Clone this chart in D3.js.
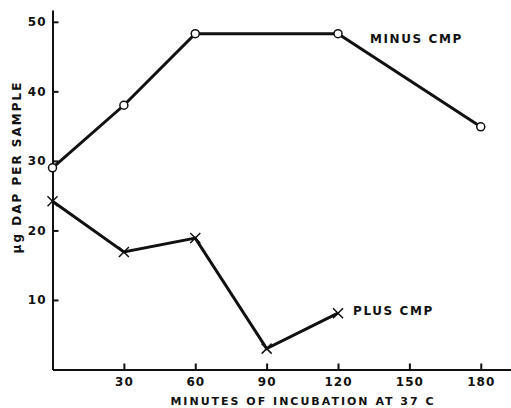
<!DOCTYPE html>
<html>
<head>
<meta charset="utf-8">
<script src="https://cdn.jsdelivr.net/npm/d3@7"></script>
<style>
    body { margin: 0; background: #fff; }
    text { font-family: "DejaVu Sans", sans-serif; font-weight: bold; fill: #111; }
</style>
</head>
<body>
<div id="graph"></div>
<script>
var minusCmp = [[0, 29], [30, 38], [60, 48.3], [120, 48.3], [180, 34.9]];
var plusCmp = [[0, 24.2], [30, 16.9], [60, 18.9], [90, 3], [120, 8.1]];
var xTicks = [30, 60, 90, 120, 150, 180];
var yTicks = [10, 20, 30, 40, 50];

function drawChart() {
    var width = 511, height = 408;
    var svg = d3.select("#graph").append("svg")
        .attr("width", width).attr("height", height);

    var x = d3.scaleLinear().domain([0, 192.5]).range([52.5, 510.5]);
    var y = d3.scaleLinear().domain([0, 51.7]).range([369.5, 10]);

    svg.append("g").attr("transform", "translate(0," + y(0) + ")")
        .call(d3.axisBottom(x).tickValues(xTicks).tickSizeInner(-6).tickSizeOuter(0).tickPadding(8));
    svg.append("g").attr("transform", "translate(" + x(0) + ",0)")
        .call(d3.axisLeft(y).tickValues(yTicks).tickSizeInner(-6).tickSizeOuter(0).tickPadding(6));

    svg.selectAll(".domain").attr("stroke", "#111").attr("stroke-width", 2);
    svg.selectAll(".tick line").attr("stroke", "#111").attr("stroke-width", 2);
    svg.selectAll(".tick text")
        .attr("fill", "#111")
        .style("font-family", "'DejaVu Sans', sans-serif")
        .style("font-weight", "bold")
        .style("font-size", "12px")
        .style("letter-spacing", "1px");

    var line = d3.line()
        .x(function (d) { return x(d[0]); })
        .y(function (d) { return y(d[1]); });

    svg.append("path").datum(minusCmp)
        .attr("d", line)
        .attr("fill", "none").attr("stroke", "#111").attr("stroke-width", 3);
    svg.append("path").datum(plusCmp)
        .attr("d", line)
        .attr("fill", "none").attr("stroke", "#111").attr("stroke-width", 3);

    svg.append("g").selectAll("circle").data(minusCmp)
        .enter().append("circle")
        .attr("cx", function (d) { return x(d[0]); })
        .attr("cy", function (d) { return y(d[1]); })
        .attr("r", 4)
        .attr("fill", "#fff").attr("stroke", "#111").attr("stroke-width", 1.5);

    // x markers for the plus CMP series
    svg.append("g").selectAll("g").data(plusCmp)
        .enter().append("g")
        .attr("transform", function (d) { return "translate(" + x(d[0]) + "," + y(d[1]) + ")"; })
        .each(function () {
            var g = d3.select(this);
            g.append("line").attr("x1", -5).attr("y1", -5).attr("x2", 5).attr("y2", 5);
            g.append("line").attr("x1", -5).attr("y1", 5).attr("x2", 5).attr("y2", -5);
        })
        .selectAll("line").attr("stroke", "#111").attr("stroke-width", 1.5);

    svg.append("text")
        .text("MINUS CMP")
        .attr("x", 370).attr("y", 43)
        .style("font-size", "12px").style("letter-spacing", "1.6px");
    svg.append("text")
        .text("PLUS CMP")
        .attr("x", 353).attr("y", 315)
        .style("font-size", "12px").style("letter-spacing", "1.6px");

    svg.append("text")
        .text("MINUTES OF INCUBATION AT 37 C")
        .attr("x", 303).attr("y", 405)
        .attr("text-anchor", "middle")
        .style("font-size", "11px").style("letter-spacing", "2px");
    svg.append("text")
        .text("μg DAP PER SAMPLE")
        .attr("transform", "translate(21,167) rotate(-90)")
        .attr("text-anchor", "middle")
        .style("font-size", "12px").style("letter-spacing", "2px");
}

drawChart();
</script>
</body>
</html>
